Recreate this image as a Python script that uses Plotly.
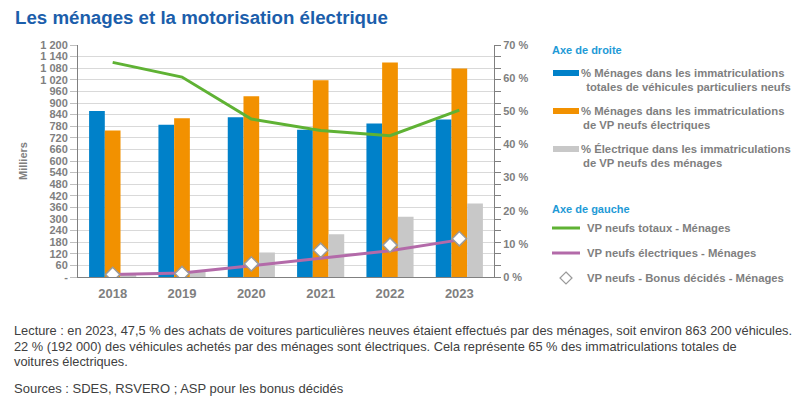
import plotly.graph_objects as go

# --- data ---
years = ["2018", "2019", "2020", "2021", "2022", "2023"]

# right axis (%)
pct_menages_total = [50.1, 45.9, 48.2, 44.4, 46.3, 47.5]
pct_menages_elec = [44.2, 47.9, 54.5, 59.4, 64.7, 62.9]
pct_elec_menages = [0.4, 1.5, 7.4, 12.9, 18.2, 22.2]

# left axis (milliers)
vp_totaux = [1110, 1034, 817, 758, 731, 863]
vp_electriques = [13, 21, 58, 98, 136, 192]
bonus_decides = [13, 18, 68, 138, 165, 198]

left_ticks = list(range(0, 1201, 60))
left_ticktext = ["-" if v == 0 else f"{v:,}".replace(",", " ") for v in left_ticks]
right_ticks = list(range(0, 71, 10))
right_ticktext = [f"{v} %" for v in right_ticks]

BLUE = "#0081c9"
ORANGE = "#f29100"
GREY_BAR = "#c8c8c8"
GREEN = "#5fb234"
PURPLE = "#b36aa9"
AXIS_GREY = "#808080"
TEXT_GREY = "#7f7f7f"
FONT = "Liberation Sans, Arial, sans-serif"

W, H = 799, 405
PLOT_L, PLOT_R, PLOT_T, PLOT_B = 78, 494, 45, 277


def px_x(px: float) -> float:
    return (px - PLOT_L) / (PLOT_R - PLOT_L)


def px_y(py: float) -> float:
    return (PLOT_B - py) / (PLOT_B - PLOT_T)


fig = go.Figure()

for name, values, color in [
    ("% Ménages dans les immatriculations totales de véhicules particuliers neufs", pct_menages_total, BLUE),
    ("% Ménages dans les immatriculations de VP neufs électriques", pct_menages_elec, ORANGE),
    ("% Électrique dans les immatriculations de VP neufs des ménages", pct_elec_menages, GREY_BAR),
]:
    fig.add_trace(go.Bar(x=years, y=values, name=name, marker=dict(color=color, line=dict(width=0)), yaxis="y"))

fig.add_trace(go.Scatter(x=years, y=vp_totaux, name="VP neufs totaux - Ménages", mode="lines",
                         line=dict(color=GREEN, width=3), yaxis="y2"))
fig.add_trace(go.Scatter(x=years, y=vp_electriques, name="VP neufs électriques - Ménages", mode="lines",
                         line=dict(color=PURPLE, width=3), yaxis="y2"))
fig.add_trace(go.Scatter(x=years, y=bonus_decides, name="VP neufs - Bonus décidés - Ménages", mode="markers",
                         marker=dict(symbol="diamond", size=11, color="white",
                                     line=dict(color="#9a9a9a", width=1.5)), yaxis="y2"))

fig.update_layout(
    width=W,
    height=H,
    margin=dict(l=PLOT_L, r=W - PLOT_R, t=PLOT_T, b=H - PLOT_B),
    paper_bgcolor="white",
    plot_bgcolor="white",
    showlegend=False,
    barmode="group",
    bargap=0.32,
    bargroupgap=0,
    font=dict(family=FONT, color=TEXT_GREY),
    xaxis=dict(
        type="category",
        showgrid=False,
        showline=True,
        linecolor=AXIS_GREY,
        linewidth=1,
        ticks="",
        tickfont=dict(size=13, color=TEXT_GREY, family=FONT, weight="bold"),
        ticklabelstandoff=4,
    ),
    yaxis=dict(
        side="right",
        range=[0, 70],
        tickvals=right_ticks,
        ticktext=right_ticktext,
        showgrid=False,
        zeroline=False,
        showline=True,
        linecolor=AXIS_GREY,
        ticks="outside",
        ticklen=6,
        tickcolor="rgba(0,0,0,0)",
        tickfont=dict(size=11, color=TEXT_GREY, family=FONT, weight="bold"),
        minor=dict(dtick=3.5, tick0=0, ticks="outside", ticklen=6, tickcolor=AXIS_GREY, showgrid=False),
    ),
    yaxis2=dict(
        side="left",
        overlaying="y",
        range=[0, 1200],
        tickvals=left_ticks,
        ticktext=left_ticktext,
        showgrid=True,
        gridcolor="#d9d9d9",
        gridwidth=1,
        zeroline=False,
        showline=True,
        linecolor=AXIS_GREY,
        ticks="outside",
        ticklen=7,
        tickcolor="#bfbfbf",
        tickfont=dict(size=11, color=TEXT_GREY, family=FONT, weight="bold"),
    ),
)

annotations = []


def add_text(text, x, y, size, color, bold=False, anchor="left", family=FONT, angle=0):
    annotations.append(dict(
        text=f"<b>{text}</b>" if bold else text,
        x=px_x(x), y=px_y(y), xref="paper", yref="paper",
        xanchor=anchor, yanchor="middle", showarrow=False, textangle=angle,
        font=dict(size=size, color=color, family=family),
    ))


# title and notes
add_text("Les ménages et la motorisation électrique", 13, 18, 18.7, "#1b5eab", bold=True)
add_text("Milliers", 23, 161, 11, TEXT_GREY, bold=True, anchor="center", angle=-90)

note_lines = [
    "Lecture : en 2023, 47,5 % des achats de voitures particulières neuves étaient effectués par des ménages, soit environ 863 200 véhicules.",
    "22 % (192 000) des véhicules achetés par des ménages sont électriques. Cela représente 65 % des immatriculations totales de",
    "voitures électriques.",
]
for i, line in enumerate(note_lines):
    add_text(line, 12, 330.5 + i * 15.5, 12.8, "#404040")
add_text("Sources : SDES, RSVERO ; ASP pour les bonus décidés", 12, 388, 13, "#404040")

# legend, drawn by hand to follow the two-section layout
LEG_BLUE = "#1e9ad6"
add_text("Axe de droite", 550, 50, 11, LEG_BLUE, bold=True)
add_text("Axe de gauche", 550, 209, 11, LEG_BLUE, bold=True)

shapes = []
bar_items = [
    (BLUE, 73, ["% Ménages dans les immatriculations", " totales de véhicules particuliers neufs"]),
    (ORANGE, 111, ["% Ménages dans les immatriculations", "de VP neufs électriques"]),
    (GREY_BAR, 149, ["% Électrique dans les immatriculations", "de VP neufs des ménages"]),
]
for color, yc, lines in bar_items:
    shapes.append(dict(type="rect", xref="paper", yref="paper",
                       x0=px_x(553), x1=px_x(579), y0=px_y(yc + 3), y1=px_y(yc - 3),
                       fillcolor=color, line=dict(width=0)))
    for j, line in enumerate(lines):
        add_text(line, 579 + (2 if j else 0), yc + j * 13.5, 11.3, TEXT_GREY, bold=True)

line_items = [
    (GREEN, 228, "VP neufs totaux - Ménages"),
    (PURPLE, 253, "VP neufs électriques - Ménages"),
]
for color, yc, label in line_items:
    shapes.append(dict(type="line", xref="paper", yref="paper",
                       x0=px_x(552), x1=px_x(580), y0=px_y(yc), y1=px_y(yc),
                       line=dict(color=color, width=3)))
    add_text(label, 585, yc, 11.3, TEXT_GREY, bold=True)

dx, dy = 6, 6
cx, cy = 566, 278
path = (f"M {px_x(cx)},{px_y(cy - dy)} L {px_x(cx + dx)},{px_y(cy)} "
        f"L {px_x(cx)},{px_y(cy + dy)} L {px_x(cx - dx)},{px_y(cy)} Z")
shapes.append(dict(type="path", xref="paper", yref="paper", path=path,
                   fillcolor="white", line=dict(color="#9a9a9a", width=1.2)))
add_text("VP neufs - Bonus décidés - Ménages", 585, 278, 11.3, TEXT_GREY, bold=True)

fig.update_layout(annotations=annotations, shapes=shapes)

# the page body has an 8px default margin; remove it so the figure sits at 0,0
fig.write_html("out.html", config={"displayModeBar": False},
               post_script="document.body.style.margin='0';")
